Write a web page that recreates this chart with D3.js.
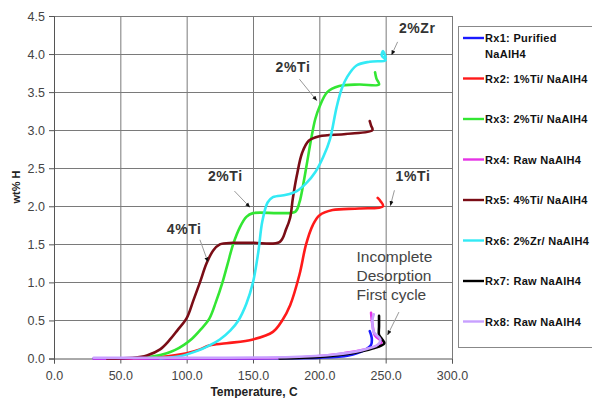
<!DOCTYPE html>
<html>
<head>
<meta charset="utf-8">
<script src="https://d3js.org/d3.v7.min.js"></script>
<style>
body{margin:0;background:#fff;}
svg{display:block;font-family:"Liberation Sans",Arial,sans-serif;}
</style>
</head>
<body>
<svg id="chart"></svg>
<script>
// data: [temperature C, wt% H]
var rx1 = [[30,0],[100,0],[150,0.002],[200,0.01],[222,0.04],[233,0.1],[239,0.18],[239.5,0.27],[238,0.36]]
var rx2 = [[55,0],[80,0.02],[100,0.07],[110,0.12],[117,0.17],[130,0.2],[150,0.25],[165,0.35],[172,0.5],[178,0.7],[185,1.1],[190,1.5],[195,1.75],[200,1.88],[210,1.95],[230,1.97],[248,2.0],[246,2.07],[244,2.11]]
var rx3 = [[60,0.005],[75,0.03],[85,0.07],[91,0.11],[98,0.18],[104,0.26],[110,0.37],[117,0.52],[122,0.74],[127,1.0],[131,1.25],[135,1.5],[140,1.72],[145,1.86],[150,1.91],[170,1.91],[182,1.93],[185,2.05],[188,2.3],[191,2.6],[194,2.9],[197,3.15],[200,3.3],[206,3.5],[215,3.58],[230,3.6],[245,3.6],[243,3.68],[242,3.76]]
var rx4 = [[30,0],[150,0.003],[190,0.02],[215,0.06],[235,0.12],[245,0.18],[247,0.22],[242,0.3],[240,0.45],[239,0.6]]
var rx5 = [[40,0],[60,0.01],[70,0.04],[80,0.12],[87,0.24],[93,0.37],[100,0.53],[105,0.76],[110,1.0],[115,1.25],[120,1.42],[125,1.5],[135,1.52],[150,1.52],[170,1.53],[175,1.7],[178,1.85],[180,2.1],[183,2.4],[187,2.7],[192,2.86],[200,2.92],[220,2.95],[240,3.0],[239,3.06],[238,3.12]]
var rx6 = [[80,0.005],[95,0.03],[108,0.1],[118,0.18],[125,0.25],[133,0.37],[139,0.5],[145,0.72],[150,1.0],[154,1.4],[157,1.8],[161,2.05],[165,2.12],[175,2.15],[183,2.2],[190,2.3],[197,2.45],[203,2.65],[208,2.88],[213,3.3],[217,3.55],[221,3.7],[228,3.85],[238,3.9],[250,3.92],[247,3.98],[248,4.04],[250,3.96]]
var rx7 = [[170,0],[200,0.02],[225,0.07],[240,0.13],[249,0.2],[247,0.26],[245,0.31],[245,0.42],[245,0.56]]
var rx8 = [[30,0.01],[100,0.01],[180,0.02],[210,0.05],[230,0.1],[244,0.18],[246,0.25],[241,0.35],[240,0.5],[241,0.58]]

var seriesNames = ["Rx1: Purified|NaAlH4","Rx2: 1%Ti/ NaAlH4","Rx3: 2%Ti/ NaAlH4","Rx4: Raw NaAlH4",
    "Rx5: 4%Ti/ NaAlH4","Rx6: 2%Zr/ NaAlH4","Rx7: Raw NaAlH4","Rx8: Raw NaAlH4"]
var seriesColors = ["#1a1aff","#ff1a1a","#33e633","#e633e6","#7a0d16","#33eaf5","#000000","#c8a0ff"]
var seriesData = [rx1,rx2,rx3,rx4,rx5,rx6,rx7,rx8]

var xTicks = [0,50,100,150,200,250,300]
var yTicks = [0,0.5,1,1.5,2,2.5,3,3.5,4,4.5]

// annotation text, text position and arrow [from, to] in data units
var noteText = ["2%Zr","2%Ti","2%Ti","1%Ti","4%Ti"]
var notePos = [[260,4.28],[167,3.76],[116,2.33],[257.5,2.33],[85,1.64]]
var noteArrow = [[[259,4.16],[254.5,3.99]],[[185,3.67],[198,3.39]],[[136,2.2],[147.6,1.99]],[[256.6,2.21],[253.6,2.01]],[[110,1.56],[116,1.27]]]
var incompleteLines = ["Incomplete","Desorption","First cycle"]

var width = 592
var height = 398

var svg = d3.select("#chart")
    .attr("width", width)
    .attr("height", height)

var xScale = d3.scaleLinear().domain([0,300]).range([54,452])
var yScale = d3.scaleLinear().domain([0,4.5]).range([358.5,16])

svg.append("defs").append("marker")
    .attr("id","arrow")
    .attr("viewBox","0 0 10 10")
    .attr("refX",9).attr("refY",5)
    .attr("markerWidth",5).attr("markerHeight",5)
    .attr("orient","auto")
    .append("path")
    .attr("d","M0,1L10,5L0,9Z")
    .attr("fill","#111")

//grid
svg.append("g")
    .selectAll("line")
    .data(xTicks.slice(1))
    .enter().append("line")
    .attr("x1", function(d){return xScale(d)+0.5})
    .attr("x2", function(d){return xScale(d)+0.5})
    .attr("y1", yScale(4.5)).attr("y2", yScale(0))
    .attr("stroke","#7a7a7a").attr("stroke-width",1)

svg.append("g")
    .selectAll("line")
    .data(yTicks.slice(1))
    .enter().append("line")
    .attr("x1", xScale(0)).attr("x2", xScale(300))
    .attr("y1", function(d){return Math.round(yScale(d))+0.5})
    .attr("y2", function(d){return Math.round(yScale(d))+0.5})
    .attr("stroke","#7a7a7a").attr("stroke-width",1)

//axes
var xAxis = d3.axisBottom(xScale).tickValues(xTicks).tickFormat(d3.format(".1f")).tickSize(5)
var yAxis = d3.axisLeft(yScale).tickValues(yTicks).tickFormat(d3.format(".1f")).tickSize(5)

var gx = svg.append("g")
    .attr("transform","translate(0,"+yScale(0)+")")
    .call(xAxis)
var gy = svg.append("g")
    .attr("transform","translate("+xScale(0)+",0)")
    .call(yAxis)

gx.select(".domain").attr("stroke","#555")
gy.select(".domain").attr("stroke","#555")
gx.selectAll(".tick line").attr("stroke","#555")
gy.selectAll(".tick line").attr("stroke","#555")
gx.selectAll("text").attr("font-size",12.5).attr("fill","#444").attr("dy","1.05em").attr("font-family","Liberation Sans, Arial")
gy.selectAll("text").attr("font-size",12.5).attr("fill","#444").attr("x",-9).attr("font-family","Liberation Sans, Arial")

svg.append("text")
    .attr("x",254).attr("y",396)
    .attr("text-anchor","middle")
    .attr("font-weight","bold").attr("font-size",12)
    .attr("fill","#222")
    .text("Temperature, C")

svg.append("text")
    .attr("transform","translate(20,187) rotate(-90)")
    .attr("text-anchor","middle")
    .attr("font-weight","bold").attr("font-size",11)
    .attr("fill","#222")
    .text("wt% H")

//curves
var line = d3.line()
    .x(function(d){return xScale(d[0])})
    .y(function(d){return yScale(d[1])})
    .curve(d3.curveCatmullRom.alpha(0.5))

svg.append("g")
    .selectAll("path")
    .data(seriesData)
    .enter().append("path")
    .attr("d", line)
    .attr("fill","none")
    .attr("stroke", function(d,i){return seriesColors[i]})
    .attr("stroke-width",2.6)
    .attr("stroke-linejoin","round")
    .attr("stroke-linecap","round")

//annotations
svg.append("g")
    .selectAll("line")
    .data(noteArrow)
    .enter().append("line")
    .attr("x1", function(d){return xScale(d[0][0])})
    .attr("y1", function(d){return yScale(d[0][1])})
    .attr("x2", function(d){return xScale(d[1][0])})
    .attr("y2", function(d){return yScale(d[1][1])})
    .attr("stroke","#999").attr("stroke-width",1)
    .attr("marker-end","url(#arrow)")

svg.append("g")
    .selectAll("text")
    .data(noteText)
    .enter().append("text")
    .attr("x", function(d,i){return xScale(notePos[i][0])})
    .attr("y", function(d,i){return yScale(notePos[i][1])})
    .attr("font-weight","bold").attr("font-size",14)
    .attr("letter-spacing",0.6)
    .attr("fill","#333")
    .text(function(d){return d})

svg.append("g")
    .selectAll("text")
    .data(incompleteLines)
    .enter().append("text")
    .attr("x", xScale(228))
    .attr("y", function(d,i){return yScale(1.27)+i*19})
    .attr("font-size",15.5)
    .attr("fill","#444")
    .text(function(d){return d})

svg.append("line")
    .attr("x1",xScale(260)).attr("y1",yScale(0.61))
    .attr("x2",xScale(251.5)).attr("y2",yScale(0.31))
    .attr("stroke","#999").attr("stroke-width",1)
    .attr("marker-end","url(#arrow)")

//legend
var legend = svg.append("g")

legend.append("rect")
    .attr("x",458.5).attr("y",26.5)
    .attr("width",160).attr("height",321)
    .attr("fill","#fff")
    .attr("stroke","#888").attr("stroke-width",1)

var items = legend.selectAll("g.item")
    .data(seriesNames)
    .enter().append("g")
    .attr("class","item")
    .attr("transform", function(d,i){return "translate(0,"+(38+i*40.5)+")"})

items.append("line")
    .attr("x1",463).attr("x2",484)
    .attr("stroke", function(d,i){return seriesColors[i]})
    .attr("stroke-width",2.4)

items.append("text")
    .attr("x",485).attr("y",4)
    .attr("font-weight","bold").attr("font-size",11)
    .attr("letter-spacing",0.3)
    .attr("fill","#111")
    .each(function(d){
        var parts = d.split("|")
        var t = d3.select(this)
        parts.forEach(function(p,j){
            t.append("tspan").attr("x",485).attr("dy", j==0 ? 0 : 16).text(p)
        })
    })
</script>
</body>
</html>
